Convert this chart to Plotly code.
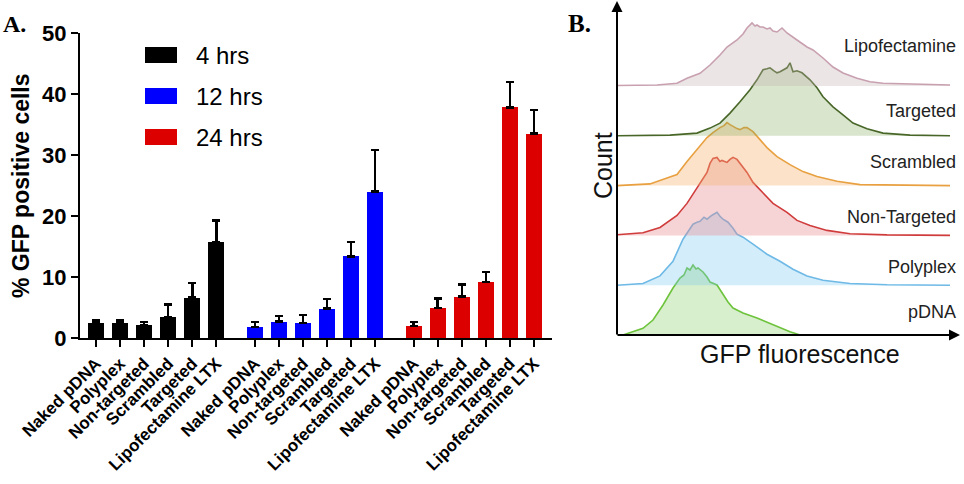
import plotly.graph_objects as go

# ---------------- data: panel A ----------------
categories = ["Naked pDNA", "Polyplex", "Non-targeted", "Scrambled", "Targeted", "Lipofectamine LTX"]
time_points = ["4 hrs", "12 hrs", "24 hrs"]
gfp_4h = [2.4, 2.4, 2.1, 3.4, 6.6, 15.7]
err_4h = [0.5, 0.5, 0.5, 2.1, 2.4, 3.6]
gfp_12h = [1.8, 2.7, 2.5, 4.8, 13.4, 24.0]
err_12h = [0.8, 0.9, 1.3, 1.6, 2.3, 6.8]
gfp_24h = [2.0, 4.9, 6.8, 9.2, 37.8, 33.5]
err_24h = [0.6, 1.6, 2.0, 1.6, 4.2, 3.9]
y_ticks = [0, 10, 20, 30, 40, 50]

# ---------------- data: panel B (flow histograms) ----------------
hist_names = ["pDNA", "Polyplex", "Non-Targeted", "Scrambled", "Targeted", "Lipofectamine"]
fluor_pdna = [0, 6, 26, 36, 46, 56, 63, 67, 70, 73, 76, 79, 81, 86, 90, 93, 100, 106, 111, 116, 126, 140, 156, 173, 183]
count_pdna = [0, 0, 6.7, 15, 30, 47, 57, 60, 67, 65, 70, 66, 67, 63, 58, 53, 50, 40, 33, 27, 22, 17, 10, 3.3, 0]
fluor_poly = [0, 26, 43, 56, 66, 76, 80, 83, 87, 90, 95, 100, 103, 106, 111, 116, 120, 126, 136, 150, 163, 176, 190, 206, 233, 270, 333]
count_poly = [0, 1.7, 9.3, 24, 46, 61, 63, 64, 68, 66, 70, 73, 69, 66, 63, 57, 51, 48, 41, 31, 24, 16, 9.3, 5, 1.7, 0.5, 0]
fluor_nont = [0, 26, 43, 60, 70, 80, 90, 93, 96, 100, 103, 105, 110, 113, 116, 120, 123, 130, 136, 146, 156, 170, 180, 193, 210, 233, 270, 333]
count_nont = [0.7, 2.7, 8, 20, 32, 47, 63, 72, 77, 78, 74, 75, 73, 76, 78, 76, 72, 63, 53, 42, 32, 23, 15, 10, 5, 1.7, 0.5, 0]
fluor_scr = [0, 33, 50, 60, 70, 80, 90, 96, 100, 103, 107, 110, 113, 116, 120, 123, 127, 130, 136, 143, 150, 160, 173, 186, 200, 220, 243, 333]
count_scr = [0, 1.7, 7.7, 11, 24, 36, 48, 53, 56, 58, 60, 63, 61, 59, 57, 56, 58, 58, 54, 46, 38, 29, 21, 14, 9, 4.3, 1, 0]
fluor_tgt = [0, 53, 80, 93, 103, 113, 123, 133, 140, 146, 150, 153, 157, 160, 163, 166, 170, 173, 176, 180, 185, 193, 200, 206, 216, 226, 236, 250, 266, 293, 333]
count_tgt = [0, 0.7, 2.7, 7.7, 12.7, 22.7, 34, 46, 56, 66, 67, 68, 65, 63, 64, 66, 68, 73, 64, 65, 63, 56, 48, 39, 29, 21, 12.7, 7, 2.7, 0.7, 0]
fluor_lipo = [0, 40, 60, 70, 83, 93, 103, 110, 120, 126, 130, 135, 138, 140, 143, 146, 150, 153, 156, 160, 165, 170, 180, 190, 196, 206, 216, 226, 240, 253, 266, 293, 333]
count_lipo = [0.5, 1, 2.7, 7.7, 12.7, 21, 31, 39, 46, 52, 58, 63, 60, 61, 59, 59, 57, 58, 55, 54, 58, 53, 46, 39, 36, 28, 19, 13, 7.7, 4.3, 2.7, 2, 1]
hist_fluor = [fluor_pdna, fluor_poly, fluor_nont, fluor_scr, fluor_tgt, fluor_lipo]
hist_count = [count_pdna, count_poly, count_nont, count_scr, count_tgt, count_lipo]

# ---------------- styles ----------------
W, H = 964, 484
FONT = "Liberation Sans, Arial, sans-serif"
bar_colors = ["#000000", "#0000ff", "#dd0000"]
line_colors = ["rgb(110,195,60)", "rgb(110,185,230)", "rgb(208,60,60)",
               "rgb(232,160,64)", "rgb(72,102,40)", "rgb(200,160,176)"]
fill_colors = ["rgba(140,210,110,0.35)", "rgba(120,200,240,0.32)", "rgba(232,140,145,0.38)",
               "rgba(245,180,110,0.38)", "rgba(130,170,90,0.30)", "rgba(195,175,175,0.33)"]
group_step = 6.6
ridge_step = 49.8


def px(x):
    return x / W


def py(y):
    return 1 - y / H


fig = go.Figure()

series = [(gfp_4h, err_4h), (gfp_12h, err_12h), (gfp_24h, err_24h)]
tickvals, ticktext = [], []
for g, (vals, errs) in enumerate(series):
    xs = [g * group_step + i for i in range(len(categories))]
    tickvals += xs
    ticktext += categories
    fig.add_trace(go.Bar(
        x=xs, y=vals, width=0.67, name=time_points[g],
        marker=dict(color=bar_colors[g], line=dict(width=0)),
        error_y=dict(type="data", array=errs, arrayminus=[0] * len(errs), symmetric=False,
                     color="black", thickness=2.5, width=4),
        xaxis="x", yaxis="y", showlegend=False,
    ))

for k, name in enumerate(hist_names):
    b = k * ridge_step
    fx = hist_fluor[k]
    fy = [b + c for c in hist_count[k]]
    fig.add_trace(go.Scatter(
        x=fx + [fx[-1], fx[0]], y=fy + [b, b], fill="toself", fillcolor=fill_colors[k],
        line=dict(width=0), mode="lines", xaxis="x2", yaxis="y2", showlegend=False, hoverinfo="skip"))
    fig.add_trace(go.Scatter(
        x=fx, y=fy, mode="lines", line=dict(color=line_colors[k], width=1.6),
        xaxis="x2", yaxis="y2", showlegend=False, name=name))

annotations = []
shapes = []

# legend for panel A
leg_y = [55, 96, 137]
for g, t in enumerate(time_points):
    shapes.append(dict(type="rect", xref="paper", yref="paper",
                       x0=px(145), x1=px(177), y0=py(leg_y[g] + 8), y1=py(leg_y[g] - 8),
                       fillcolor=bar_colors[g], line=dict(width=0)))
    annotations.append(dict(text=t, xref="paper", yref="paper", x=px(194), y=py(leg_y[g]),
                            xanchor="left", yanchor="middle", showarrow=False,
                            font=dict(family=FONT, size=24, color="black")))

# axis title panel A
annotations.append(dict(text="<b>% GFP positive cells</b>", xref="paper", yref="paper",
                        x=px(21), y=py(186), textangle=-90, showarrow=False,
                        xanchor="center", yanchor="middle",
                        font=dict(family=FONT, size=23, color="black")))
# panel letters
annotations.append(dict(text="<b>A.</b>", xref="paper", yref="paper", x=px(1), y=py(24),
                        xanchor="left", yanchor="middle", showarrow=False,
                        font=dict(family="Liberation Serif, Times New Roman, serif", size=24, color="black")))
annotations.append(dict(text="<b>B.</b>", xref="paper", yref="paper", x=px(566), y=py(23),
                        xanchor="left", yanchor="middle", showarrow=False,
                        font=dict(family="Liberation Serif, Times New Roman, serif", size=25, color="black")))

# panel B labels
label_y = [312, 267, 217, 162, 111, 46]
for k, name in enumerate(hist_names):
    annotations.append(dict(text=name, xref="paper", yref="paper", x=px(958), y=py(label_y[k]),
                            xanchor="right", yanchor="middle", showarrow=False,
                            font=dict(family=FONT, size=18, color="#222222")))
annotations.append(dict(text="Count", xref="paper", yref="paper", x=px(603), y=py(166),
                        textangle=-90, xanchor="center", yanchor="middle", showarrow=False,
                        font=dict(family=FONT, size=25, color="#111111")))
annotations.append(dict(text="GFP fluorescence", xref="paper", yref="paper", x=px(800), y=py(354),
                        xanchor="center", yanchor="middle", showarrow=False,
                        font=dict(family=FONT, size=25, color="#111111")))
# arrow axes panel B
annotations.append(dict(text="", xref="paper", yref="paper", x=px(617), y=py(1),
                        ax=0, ay=335, showarrow=True, arrowhead=2, arrowsize=1.1,
                        arrowwidth=2, arrowcolor="black"))
annotations.append(dict(text="", xref="paper", yref="paper", x=px(960), y=py(335),
                        ax=-344, ay=0, showarrow=True, arrowhead=2, arrowsize=1.1,
                        arrowwidth=2, arrowcolor="black"))

fig.update_layout(
    width=W, height=H, margin=dict(l=0, r=0, t=0, b=0, autoexpand=False),
    paper_bgcolor="white", plot_bgcolor="white", bargap=0,
    xaxis=dict(domain=[px(80), px(552)], range=[-0.667, 18.95], tickvals=tickvals, ticktext=ticktext,
               tickangle=-45, ticks="outside", ticklen=7, tickwidth=2, tickcolor="black",
               showline=True, linewidth=2, linecolor="black", showgrid=False, zeroline=False,
               automargin=False, anchor="y",
               tickfont=dict(family=FONT, size=17, color="black", weight="bold")),
    yaxis=dict(domain=[py(338), py(33)], range=[0, 50], tickvals=y_ticks,
               ticks="outside", ticklen=7, tickwidth=2, tickcolor="black",
               showline=True, linewidth=2, linecolor="black", showgrid=False, zeroline=False,
               automargin=False, anchor="x",
               tickfont=dict(family=FONT, size=22, color="black", weight="bold")),
    xaxis2=dict(domain=[px(617), px(958)], range=[0, 341], visible=False, anchor="y2"),
    yaxis2=dict(domain=[py(335), py(0)], range=[0, 335], visible=False, anchor="x2"),
    annotations=annotations, shapes=shapes,
)

fig.write_html("out.html")
